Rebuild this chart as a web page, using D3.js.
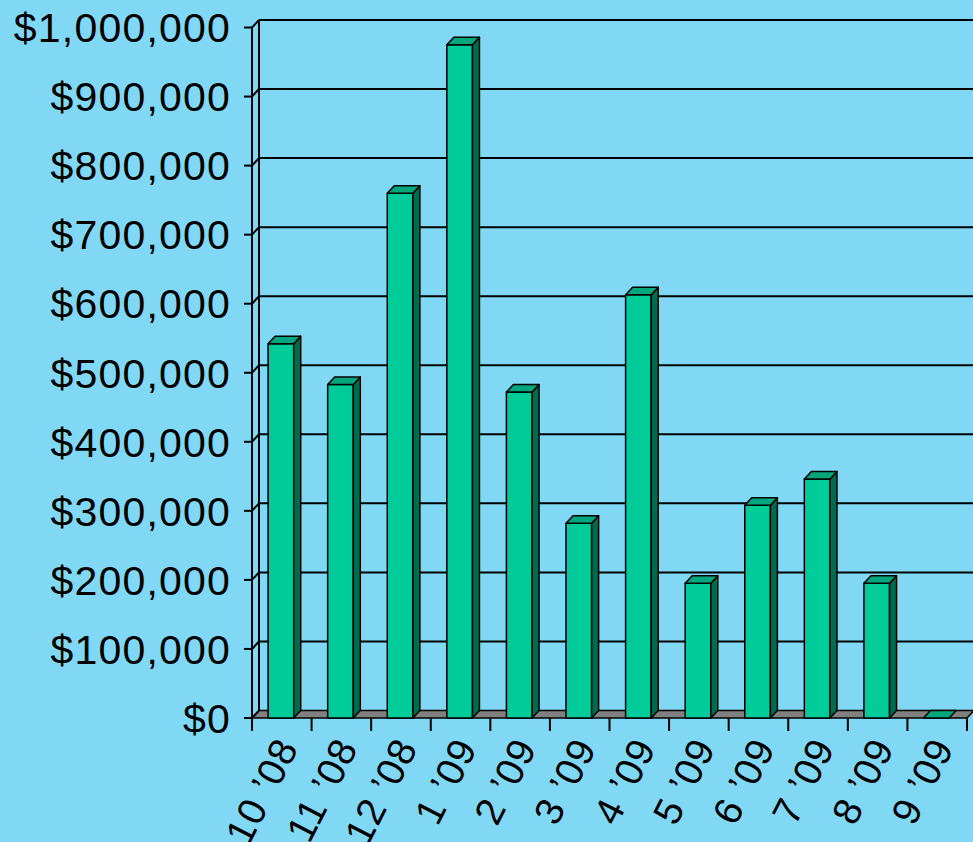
<!DOCTYPE html>
<html>
<head>
  <meta charset="utf-8" />
  <title>Monthly totals</title>
  <style>
    html, body { margin: 0; padding: 0; background: #80d8f5; }
    svg { display: block; }
    text { font-family: "Liberation Sans", Arial, sans-serif; fill: #000; }
  </style>
</head>
<body>
<div id="chart"></div>
<script src="https://cdnjs.cloudflare.com/ajax/libs/d3/7.8.5/d3.min.js"></script>
<script>
// months and amounts
var months = ["10 ’08", "11 ’08", "12 ’08", "1 ’09", "2 ’09", "3 ’09",
              "4 ’09", "5 ’09", "6 ’09", "7 ’09", "8 ’09", "9 ’09"];
var amounts = [542000, 483000, 760000, 975000, 472000, 282000,
               613000, 195000, 308000, 346000, 195000, 0];
var yTicks = [0, 100000, 200000, 300000, 400000, 500000,
              600000, 700000, 800000, 900000, 1000000];

var w = 973, h = 842;
var dx = 7, dy = 7.5; // depth of the 3d box

var svg = d3.select("#chart").append("svg")
  .attr("width", w)
  .attr("height", h);

svg.append("rect").attr("width", w).attr("height", h).attr("fill", "#80d8f5");

var x = d3.scaleBand().domain(months).range([252, 967]);
var y = d3.scaleLinear().domain([0, 1000000]).range([718, 27.5]);
var bw = x.bandwidth();
var fmt = function(v) { return "$" + d3.format(",")(v); };

// floor
var y0 = y(0);
svg.append("path")
  .attr("d", "M" + x.range()[0] + "," + y0 + "L" + x.range()[1] + "," + y0 +
    "L" + (x.range()[1] + dx) + "," + (y0 - dy) + "L" + (x.range()[0] + dx) + "," + (y0 - dy) + "Z")
  .attr("fill", "#808080")
  .attr("stroke", "#000")
  .attr("stroke-width", 1.5);

// back wall gridlines + side wall diagonals
var grid = svg.append("g").attr("stroke", "#000").attr("stroke-width", 2);
grid.selectAll(".gl").data(yTicks.slice(1)).enter().append("line")
  .attr("x1", x.range()[0] + dx).attr("x2", w)
  .attr("y1", function(d) { return y(d) - dy; })
  .attr("y2", function(d) { return y(d) - dy; });
grid.selectAll(".dg").data(yTicks).enter().append("line")
  .attr("x1", x.range()[0]).attr("x2", x.range()[0] + dx)
  .attr("y1", function(d) { return y(d); })
  .attr("y2", function(d) { return y(d) - dy; });
// back wall left edge
grid.append("line")
  .attr("x1", x.range()[0] + dx).attr("x2", x.range()[0] + dx)
  .attr("y1", y(1000000) - dy).attr("y2", y0 - dy);

// bars
var bars = svg.append("g").selectAll("g").data(amounts).enter().append("g")
  .attr("stroke", "#000").attr("stroke-width", 1.5).attr("stroke-linejoin", "round");

bars.each(function(v, i) {
  var g = d3.select(this);
  var bx = x(months[i]) + bw * 0.27, bwid = bw * 0.43;
  var top = y(v);
  if (v > 0) {
    g.append("rect").attr("x", bx).attr("y", top).attr("width", bwid).attr("height", y0 - top)
      .attr("fill", "#00cc99");
    g.append("path")
      .attr("d", "M" + (bx + bwid) + "," + top + "L" + (bx + bwid + dx) + "," + (top - dy) +
        "L" + (bx + bwid + dx) + "," + (y0 - dy) + "L" + (bx + bwid) + "," + y0 + "Z")
      .attr("fill", "#006b4f");
  }
  g.append("path")
    .attr("d", "M" + bx + "," + top + "L" + (bx + bwid) + "," + top +
      "L" + (bx + bwid + dx) + "," + (top - dy) + "L" + (bx + dx) + "," + (top - dy) + "Z")
    .attr("fill", "#00a67c");
});

// axes
var axes = svg.append("g").attr("stroke", "#000").attr("stroke-width", 2);
axes.append("line")
  .attr("x1", x.range()[0]).attr("x2", x.range()[0])
  .attr("y1", y(1000000)).attr("y2", y0);
axes.selectAll(".yt").data(yTicks).enter().append("line")
  .attr("x1", x.range()[0] - 8).attr("x2", x.range()[0])
  .attr("y1", function(d) { return y(d); }).attr("y2", function(d) { return y(d); });
axes.selectAll(".xt").data(months.concat([null])).enter().append("line")
  .attr("x1", function(d, i) { return x.range()[0] + i * bw; })
  .attr("x2", function(d, i) { return x.range()[0] + i * bw; })
  .attr("y1", y0).attr("y2", y0 + 13);

// y labels
svg.append("g").selectAll("text").data(yTicks).enter().append("text")
  .attr("x", 231)
  .attr("y", function(d) { return y(d); })
  .attr("dy", "0.36em")
  .attr("text-anchor", "end")
  .attr("font-size", "41px")
  .attr("letter-spacing", "1.2px")
  .text(fmt);

// x labels
svg.append("g").selectAll("text").data(months).enter().append("text")
  .attr("transform", function(d) {
    return "translate(" + (x(d) + bw / 2 + 5) + "," + 741 + ") rotate(-63)";
  })
  .attr("text-anchor", "end")
  .attr("dy", "0.36em")
  .attr("font-size", "39px")
  .attr("letter-spacing", "1px")
  .text(function(d) { return d; });
</script>
</body>
</html>
